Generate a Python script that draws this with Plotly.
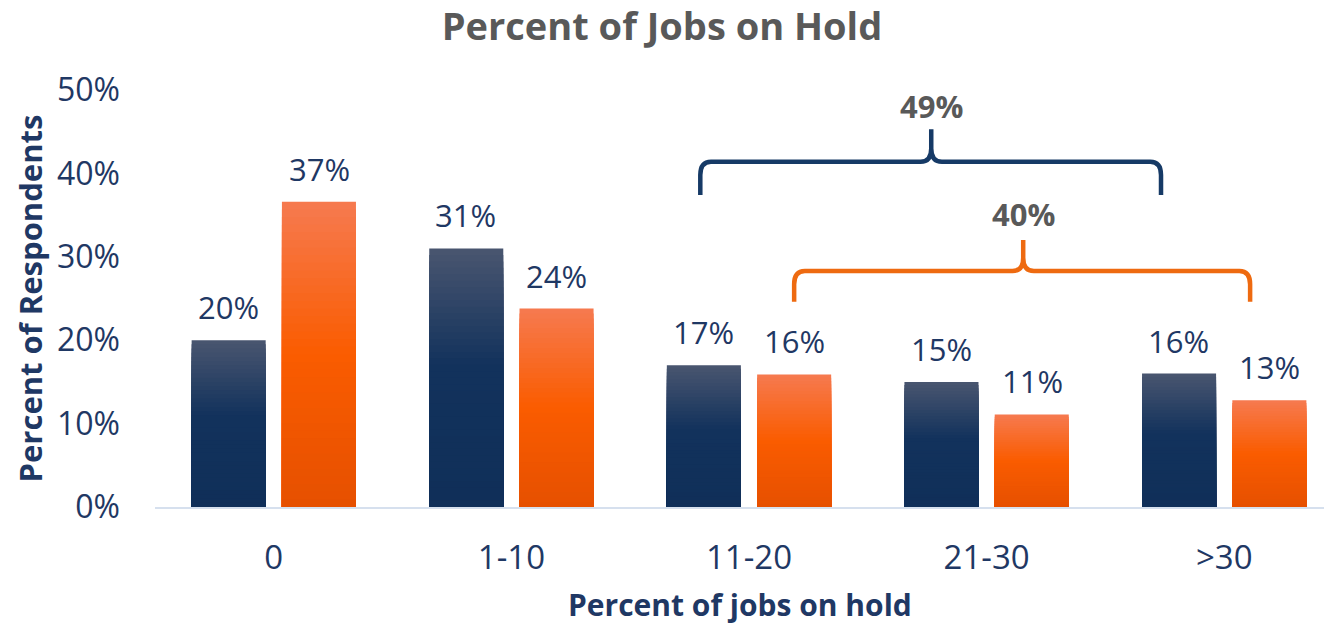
import plotly.graph_objects as go

categories = ["0", "1-10", "11-20", "21-30", ">30"]
series_a = [20.0, 31.0, 17.0, 15.0, 16.0]   # navy series (%)
series_b = [36.6, 23.8, 15.9, 11.1, 12.8]   # orange series (%)
y_ticks = [0, 10, 20, 30, 40, 50]
y_tick_labels = ["0%", "10%", "20%", "30%", "40%", "50%"]

# brackets: (x_start, x_end, x_center, y_end, y_horizontal, y_tip, label, label_y)
bracket_a = dict(x0=1.795, x1=3.734, xc=2.767, yend=37.4, yh=41.4, ytip=45.3, label="49%", ly=48.1)
bracket_b = dict(x0=2.190, x1=4.109, xc=3.154, yend=24.6, yh=28.3, ytip=32.0, label="40%", ly=35.1)

NAVY_TXT = "#1f3864"
GRAY_TXT = "#595959"
FONT = "Open Sans"

def lerp(c1, c2, t):
    return tuple(round(a + (b - a) * t) for a, b in zip(c1, c2))

def navy_grad(t):  # t: 0 top -> 1 bottom
    top, mid, bot = (74, 86, 112), (18, 50, 92), (16, 47, 89)
    if t < 0.45:
        c = lerp(top, mid, t / 0.45)
    else:
        c = lerp(mid, bot, (t - 0.45) / 0.55)
    return "rgb(%d,%d,%d)" % c

def orange_grad(t):
    top, mid, bot = (246, 122, 80), (250, 92, 0), (230, 80, 0)
    if t < 0.5:
        c = lerp(top, mid, t / 0.5)
    else:
        c = lerp(mid, bot, (t - 0.5) / 0.5)
    return "rgb(%d,%d,%d)" % c

# Gradient fill: overlay nested bars (tallest first), each shorter one drawn on top
N = 40
fig = go.Figure()
for name, vals, grad in [("a", series_a, navy_grad), ("b", series_b, orange_grad)]:
    for k in range(N - 1, -1, -1):
        t = 1 - (k + 0.5) / N
        fig.add_trace(go.Bar(
            x=categories,
            y=[v * (k + 1) / N for v in vals],
            offsetgroup=name,
            marker=dict(color=grad(t), line=dict(width=0)),
            showlegend=False,
            hoverinfo="skip",
        ))

annotations = []
for vals, shift in [(series_a, -45.5), (series_b, 45.5)]:
    for c, v in zip(categories, vals):
        annotations.append(dict(
            x=c, y=v, xref="x", yref="y", text="%.0f%%" % v,
            showarrow=False, xshift=shift, yanchor="bottom", yshift=10,
            font=dict(family=FONT, size=31, color=NAVY_TXT),
        ))

shapes = []
for br, col in [(bracket_a, "#163a66"), (bracket_b, "#ee6a10")]:
    dx, dy = 0.045, 1.6
    x0, x1, xc, ye, yh, yt = br["x0"], br["x1"], br["xc"], br["yend"], br["yh"], br["ytip"]
    path = (f"M {x0},{ye} L {x0},{yh - dy} Q {x0},{yh} {x0 + dx},{yh} "
            f"L {xc - dx},{yh} Q {xc},{yh} {xc},{yh + dy} L {xc},{yt} "
            f"M {xc},{yh + dy} Q {xc},{yh} {xc + dx},{yh} "
            f"L {x1 - dx},{yh} Q {x1},{yh} {x1},{yh - dy} L {x1},{ye}")
    shapes.append(dict(type="path", path=path, xref="x", yref="y",
                       line=dict(color=col, width=4.5)))
    annotations.append(dict(
        x=br["xc"], y=br["ly"], xref="x", yref="y", text="<b>%s</b>" % br["label"],
        showarrow=False, yanchor="middle",
        font=dict(family=FONT, size=31, color=GRAY_TXT),
    ))

# axis titles
annotations.append(dict(
    x=0.5, y=-0.235, xref="paper", yref="paper", text="<b>Percent of jobs on hold</b>",
    showarrow=False, yanchor="middle",
    font=dict(family=FONT, size=30, color=NAVY_TXT)))
annotations.append(dict(
    x=-0.107, y=0.5, xref="paper", yref="paper", text="<b>Percent of Respondents</b>",
    showarrow=False, textangle=-90, xanchor="center", yanchor="middle",
    font=dict(family=FONT, size=31, color=NAVY_TXT)))

fig.update_layout(
    width=1324, height=628,
    margin=dict(l=155, r=0, t=90, b=121),
    paper_bgcolor="white", plot_bgcolor="white",
    barmode="group", bargap=0.24, bargroupgap=0.18,
    title=dict(text="<b>Percent of Jobs on Hold</b>", x=0.5, xanchor="center",
               y=0.958, yanchor="middle",
               font=dict(family=FONT, size=38, color=GRAY_TXT)),
    xaxis=dict(type="category", range=[-0.5, 4.42], showgrid=False,
               showline=True, linecolor="#d6e0ee", linewidth=2,
               ticks="", ticklabelstandoff=20,
               tickfont=dict(family=FONT, size=33, color=NAVY_TXT)),
    yaxis=dict(range=[0, 50], tickvals=y_ticks, ticktext=y_tick_labels,
               showgrid=False, zeroline=False, showline=False, ticks="",
               ticklabelstandoff=34,
               tickfont=dict(family=FONT, size=32, color=NAVY_TXT)),
    shapes=shapes,
    annotations=annotations,
)

fig.write_html("out.html")
